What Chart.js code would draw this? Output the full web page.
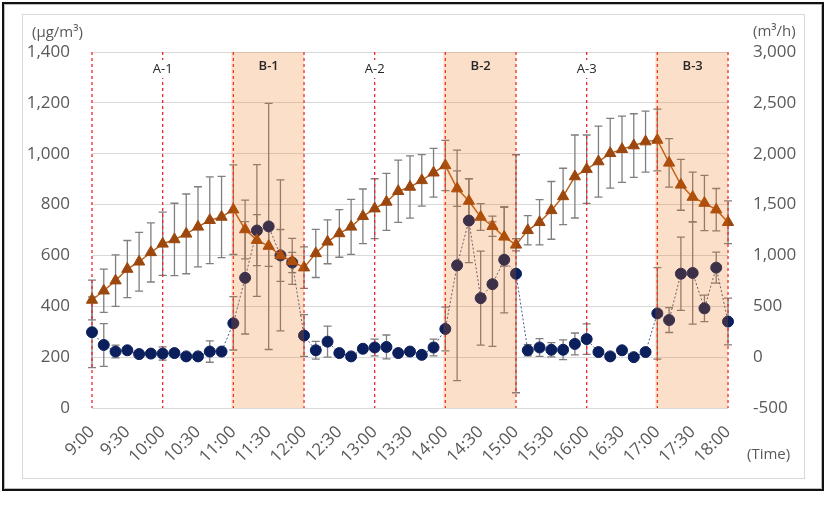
<!DOCTYPE html>
<html>
<head>
<meta charset="utf-8">
<script src="https://cdn.jsdelivr.net/npm/chart.js@4.4.1/dist/chart.umd.min.js"></script>
<style>
body{margin:0;background:#fff;width:827px;height:524px;overflow:hidden;font-family:"Open Sans",sans-serif}
#frame{position:absolute;left:2px;top:2px;width:818px;height:485px;border:2px solid #111;box-shadow:inset 0 0 0 1px #bcbcbc}
#inner{position:absolute;left:22px;top:14px;width:781px;height:463px;border:1px solid #d9d9d9}
canvas{display:block}
</style>
</head>
<body>
<div id="frame"></div>
<div id="inner"><canvas id="chart" width="781" height="463"></canvas></div>
<script>
var times = ['9:00','9:10','9:20','9:30','9:40','9:50','10:00','10:10','10:20','10:30','10:40','10:50',
    '11:00','11:10','11:20','11:30','11:40','11:50','12:00','12:10','12:20','12:30','12:40','12:50',
    '13:00','13:10','13:20','13:30','13:40','13:50','14:00','14:10','14:20','14:30','14:40','14:50',
    '15:00','15:10','15:20','15:30','15:40','15:50','16:00','16:10','16:20','16:30','16:40','16:50',
    '17:00','17:10','17:20','17:30','17:40','17:50','18:00'];

// concentration (µg/m³), left axis
var conc = [298,248,222,227,212,214,214,216,203,203,222,222,
    333,512,698,714,600,572,285,227,261,216,203,233,
    238,240,216,222,209,238,311,561,737,432,487,583,
    528,227,238,229,229,252,271,220,203,227,200,220,
    372,346,528,531,392,552,340];
var concErr = [139,84,25,12,10,12,26,10,10,10,42,12,
    105,221,259,484,297,40,82,35,61,10,10,12,
    33,47,10,10,10,33,86,453,165,185,245,209,
    468,22,35,28,39,43,60,10,10,10,10,10,
    180,49,144,201,52,61,92];

// flow rate (m³/h), right axis
var flow = [562,653,752,866,938,1030,1114,1157,1212,1281,1346,1378,
    1450,1255,1150,1092,1000,942,880,1020,1134,1216,1281,1385,
    1460,1526,1631,1673,1738,1813,1885,1657,1535,1378,1287,1183,
    1104,1247,1326,1443,1580,1776,1848,1923,2004,2044,2080,2119,
    2135,1910,1694,1574,1515,1450,1326];
var flowErr = [196,213,253,281,289,291,311,356,392,394,427,400,
    441,288,251,200,255,226,204,237,216,234,270,268,
    294,280,306,306,254,239,247,175,219,131,100,289,
    60,144,222,284,277,408,336,349,343,326,313,300,
    304,238,250,245,272,208,210];

var dividers = ['9:00','10:00','11:00','12:00','13:00','14:00','15:00','16:00','17:00','18:00'];
var shadeFrom = ['11:00','14:00','17:00'];
var shadeTo = ['12:00','15:00','18:00'];
var periodNames = ['A-1','B-1','A-2','B-2','A-3','B-3'];
var periodAt = ['10:00','11:30','13:00','14:30','16:00','17:30'];

var errorBars = {
    id: 'errorBars',
    beforeDatasetsDraw(chart) {
        var ctx = chart.ctx;
        chart.data.datasets.forEach((ds, d) => {
            var meta = chart.getDatasetMeta(d);
            var sc = chart.scales[ds.yAxisID];
            ctx.save();
            ctx.strokeStyle = '#7f7f7f';
            ctx.lineWidth = 1.3;
            meta.data.forEach((pt, i) => {
                var t = sc.getPixelForValue(ds.data[i] + ds.errors[i]);
                var b = sc.getPixelForValue(ds.data[i] - ds.errors[i]);
                ctx.beginPath();
                ctx.moveTo(pt.x, t); ctx.lineTo(pt.x, b);
                ctx.moveTo(pt.x - 4, t); ctx.lineTo(pt.x + 4, t);
                ctx.moveTo(pt.x - 4, b); ctx.lineTo(pt.x + 4, b);
                ctx.stroke();
            });
            ctx.restore();
        });
    }
};

var px = (chart, t) => chart.scales.x.getPixelForValue(times.indexOf(t));

var periods = {
    id: 'periods',
    beforeDatasetsDraw(chart) {
        var ctx = chart.ctx, a = chart.chartArea;
        ctx.save();
        ctx.strokeStyle = '#f0262a';
        ctx.lineWidth = 1.3;
        ctx.setLineDash([3, 3]);
        dividers.forEach((t) => {
            ctx.beginPath();
            ctx.moveTo(px(chart, t), a.top);
            ctx.lineTo(px(chart, t), a.bottom);
            ctx.stroke();
        });
        ctx.restore();
    },
    afterDatasetsDraw(chart) {
        var ctx = chart.ctx, a = chart.chartArea;
        ctx.save();
        ctx.fillStyle = 'rgba(240,110,10,0.22)';
        shadeFrom.forEach((t, i) => {
            var x0 = px(chart, t) - 2;
            ctx.fillRect(x0, a.top, px(chart, shadeTo[i]) - x0, a.bottom - a.top);
        });
        ctx.textAlign = 'center';
        ctx.textBaseline = 'middle';
        periodNames.forEach((n, i) => {
            var cx = px(chart, periodAt[i]);
            if (n[0] == 'A') {
                ctx.font = '13px "Open Sans"';
                var w = ctx.measureText(n).width;
                ctx.fillStyle = '#fff';
                ctx.fillRect(cx - w / 2 - 3, a.top + 8, w + 6, 18);
                ctx.fillStyle = '#262626';
                ctx.fillText(n, cx, a.top + 17);
            } else {
                ctx.font = '600 13px "Open Sans"';
                ctx.fillStyle = '#262626';
                ctx.fillText(n, cx, a.top + 14);
            }
        });
        ctx.restore();
    },
    afterDraw(chart) {
        var ctx = chart.ctx;
        ctx.save();
        ctx.font = '15px "Open Sans"';
        ctx.fillStyle = '#595959';
        ctx.textBaseline = 'middle';
        ctx.textAlign = 'left';
        ctx.fillText('(μg/m³)', 9, 18);
        ctx.fillText('(m³/h)', 730, 17);
        ctx.fillText('(Time)', 724, 440);
        ctx.restore();
    }
};

var tickFont = {family: 'Open Sans', size: 17};
var fmt = (v) => v.toLocaleString('en-US');

new Chart(document.getElementById('chart'), {
    type: 'line',
    data: {
        labels: times,
        datasets: [
            {label: 'flow', data: flow, errors: flowErr, yAxisID: 'y2',
             borderColor: '#b8621f', borderWidth: 1.5, pointStyle: 'triangle', pointRadius: 6.5,
             pointBackgroundColor: '#9c470e', pointBorderColor: '#9c470e', pointBorderWidth: 1},
            {label: 'conc', data: conc, errors: concErr, yAxisID: 'y',
             borderColor: '#4a5a86', borderWidth: 1, borderDash: [2, 2], pointStyle: 'circle', pointRadius: 5.5,
             pointBackgroundColor: '#0b1f5c', pointBorderColor: '#0b1f5c', pointBorderWidth: 1}
        ]
    },
    options: {
        responsive: false,
        devicePixelRatio: 1,
        animation: false,
        layout: {padding: {top: 37}},
        plugins: {legend: {display: false}, tooltip: {enabled: false}},
        scales: {
            x: {
                offset: false,
                grid: {display: false},
                border: {display: false},
                ticks: {autoSkip: false, maxRotation: 45, minRotation: 45, padding: 6, color: '#595959', font: tickFont,
                    callback: (v, i) => times[i].endsWith('00') || times[i].endsWith('30') ? times[i] : ''},
                afterFit: (s) => { s.height = 70; }
            },
            y: {
                position: 'left', min: 0, max: 1400,
                grid: {color: '#d9d9d9', drawTicks: false},
                border: {display: false},
                ticks: {stepSize: 200, padding: 22, color: '#595959', font: tickFont, callback: fmt},
                afterFit: (s) => { s.width = 69; }
            },
            y2: {
                position: 'right', min: -500, max: 3000,
                grid: {drawOnChartArea: false, drawTicks: false},
                border: {display: false},
                ticks: {stepSize: 500, padding: 25, color: '#595959', font: tickFont, callback: fmt},
                afterFit: (s) => { s.width = 76; }
            }
        }
    },
    plugins: [errorBars, periods]
});
</script>
</body>
</html>
